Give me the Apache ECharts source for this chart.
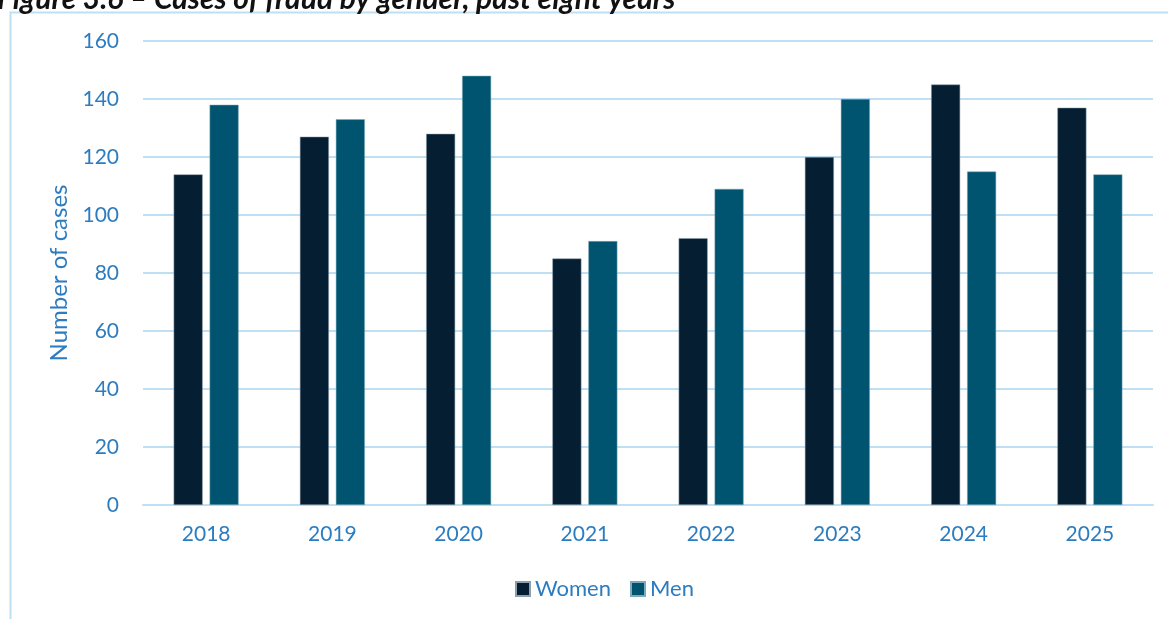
<!DOCTYPE html>
<html>
<head>
<meta charset="utf-8">
<script src="https://cdn.jsdelivr.net/npm/echarts@6/dist/echarts.min.js"></script>
<style>html,body{margin:0;padding:0;background:#fff;}#c{width:1168px;height:619px;}</style>
</head>
<body>
<div id="c"></div>
<script>
const years = ['2018','2019','2020','2021','2022','2023','2024','2025'];
const women = [114,127,128,85,92,120,145,137];
const men = [138,133,148,91,109,140,115,114];
const yTicks = [0,20,40,60,80,100,120,140,160];
const titleText = 'Figure 3.6 \u2013 Cases of fraud by gender, past eight years';

const chart = echarts.init(document.getElementById('c'), null, {renderer:'canvas'});
const blue = '#2C7CC0';
const font = 'Lato, "Open Sans", sans-serif';
chart.setOption({
  animation:false,
  backgroundColor:'#fff',
  graphic:[
    {type:'rect', shape:{x:10.5,y:12.5,width:1300,height:800}, style:{fill:'none',stroke:'#BFDFF5',lineWidth:2}, z:-1},
    {type:'text', left:-3, top:-16, style:{text:titleText, font:'italic bold 30px '+font, fill:'#111'}}
  ],
  grid:{left:143, right:15, top:41, bottom:114},
  legend:{
    bottom:14, left:510,
    itemWidth:14, itemHeight:14, itemGap:19, icon:'rect',
    textStyle:{color:blue, fontSize:22, fontFamily:font},
    data:['Women','Men']
  },
  xAxis:{
    type:'category', data:years,
    axisLine:{show:true, lineStyle:{color:'#BFDFF5', width:2}},
    axisTick:{show:false},
    axisLabel:{color:blue, fontSize:21, fontFamily:font, margin:19}
  },
  yAxis:{
    type:'value', min:0, max:160, interval:20,
    name:'Number of cases', nameLocation:'middle', nameGap:70,
    nameTextStyle:{color:blue, fontSize:24, fontFamily:font},
    axisLine:{show:false}, axisTick:{show:false},
    splitLine:{lineStyle:{color:'#BFDFF5', width:2}},
    axisLabel:{color:blue, fontSize:21, fontFamily:font, margin:24,
      formatter: v => yTicks.includes(v) ? String(v) : ''}
  },
  series:[
    {name:'Women', type:'bar', data:women, barWidth:29, barGap:'24%',
     itemStyle:{color:'#061E31', borderColor:'#8CA0B0', borderWidth:0.5}},
    {name:'Men', type:'bar', data:men, barWidth:29,
     itemStyle:{color:'#00546F', borderColor:'#7FAABB', borderWidth:0.5}}
  ]
});
</script>
</body>
</html>
